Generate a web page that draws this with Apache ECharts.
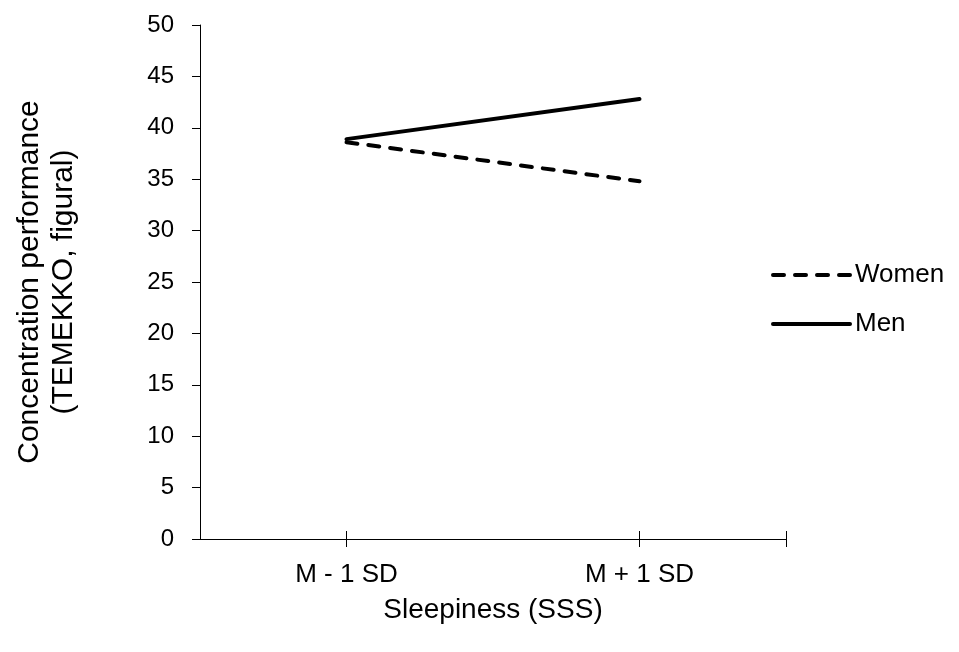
<!DOCTYPE html>
<html>
<head>
    <meta charset="utf-8">
    <title>Sleepiness x Gender</title>
    <script src="https://cdn.jsdelivr.net/npm/echarts@6/dist/echarts.min.js"></script>
</head>
<body style="margin:0">
<div id="main" style="width:959px;height:652px;"></div>
<script type="text/javascript">
    // x positions on a 0..4 value axis: category centres sit at 1 and 3
    var xPos = [1, 3];
    var xLabels = ['M - 1 SD', 'M + 1 SD'];
    var women = [38.6, 34.8];
    var men = [38.9, 42.8];
    var yTicks = [0, 5, 10, 15, 20, 25, 30, 35, 40, 45, 50];

    function pairs(ys) {
        return xPos.map(function (x, i) { return [x, ys[i]]; });
    }

    var font = '"Liberation Sans", Arial, sans-serif';
    var myChart = echarts.init(document.getElementById('main'));

    var xAxisBase = {
        type: 'value',
        min: 0,
        max: 4,
        splitLine: {show: false},
        axisLine: {onZero: false, lineStyle: {color: '#000', width: 1}}
    };

    myChart.setOption({
        animation: false,
        grid: {left: 200, right: 173, top: 25, bottom: 113},
        legend: {
            orient: 'vertical',
            left: 771,
            top: 262,
            padding: 0,
            itemWidth: 77,
            itemHeight: 14,
            itemGap: 23,
            // no marker on the legend line, just the thick stroke
            itemStyle: {opacity: 0},
            lineStyle: {width: 4, cap: 'round'},
            textStyle: {fontFamily: font, fontSize: 26, color: '#000'},
            data: ['Women', 'Men']
        },
        xAxis: [
            Object.assign({}, xAxisBase, {
                name: 'Sleepiness (SSS)',
                nameLocation: 'middle',
                nameGap: 57,
                nameTextStyle: {fontFamily: font, fontSize: 28, color: '#000'},
                axisTick: {show: true, length: 8, customValues: [1, 3, 4], lineStyle: {color: '#000'}},
                axisLabel: {
                    customValues: xPos,
                    margin: 23,
                    fontFamily: font, fontSize: 26, color: '#000',
                    formatter: function (v) { return xLabels[xPos.indexOf(v)]; }
                }
            }),
            // same axis again, only for the upward half of the crossing ticks
            Object.assign({}, xAxisBase, {
                position: 'bottom',
                axisTick: {show: true, inside: true, length: 8, customValues: [1, 3, 4], lineStyle: {color: '#000'}},
                axisLabel: {show: false}
            })
        ],
        yAxis: {
            type: 'value',
            min: 0,
            max: 50,
            interval: 5,
            name: 'Concentration performance\n(TEMEKKO, figural)',
            nameLocation: 'middle',
            nameGap: 119,
            nameTextStyle: {fontFamily: font, fontSize: 30, color: '#000', lineHeight: 34},
            splitLine: {show: false},
            axisLine: {show: true, lineStyle: {color: '#000', width: 1}},
            axisTick: {show: true, length: 8, customValues: yTicks, lineStyle: {color: '#000'}},
            axisLabel: {margin: 26, fontFamily: font, fontSize: 24, color: '#000'}
        },
        series: [
            {
                name: 'Women',
                type: 'line',
                symbol: 'none',
                data: pairs(women),
                lineStyle: {color: '#000', width: 4, type: [11, 11], cap: 'round'},
                itemStyle: {color: '#000'}
            },
            {
                name: 'Men',
                type: 'line',
                symbol: 'none',
                data: pairs(men),
                lineStyle: {color: '#000', width: 4, cap: 'round'},
                itemStyle: {color: '#000'}
            }
        ]
    });
</script>
</body>
</html>
